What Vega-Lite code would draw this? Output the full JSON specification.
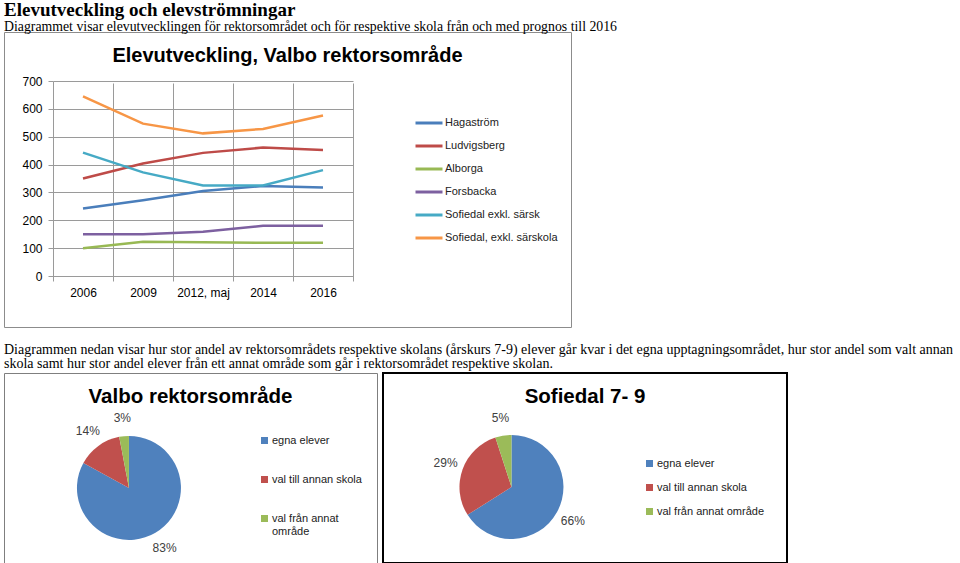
{
  "$schema": "https://vega.github.io/schema/vega-lite/v6.json",
  "padding": {"left": 3, "top": 0, "right": 0, "bottom": 0},
  "background": "white",
  "title": {
    "text": "Elevutveckling och elevströmningar",
    "subtitle": "Diagrammet visar elevutvecklingen för rektorsområdet och för respektive skola från och med prognos till 2016",
    "anchor": "start",
    "frame": "group",
    "offset": -2,
    "font": "Liberation Serif",
    "fontSize": 19,
    "fontWeight": "bold",
    "color": "#000000",
    "subtitleFont": "Liberation Serif",
    "subtitleFontSize": 13.8,
    "subtitleColor": "#000000",
    "subtitlePadding": 0
  },
  "datasets": {
    "elever": [
      {"school": "Hagaström", "year": "2006", "count": 242},
      {"school": "Hagaström", "year": "2009", "count": 272},
      {"school": "Hagaström", "year": "2012, maj", "count": 305},
      {"school": "Hagaström", "year": "2014", "count": 323},
      {"school": "Hagaström", "year": "2016", "count": 318},
      {"school": "Ludvigsberg", "year": "2006", "count": 350},
      {"school": "Ludvigsberg", "year": "2009", "count": 404},
      {"school": "Ludvigsberg", "year": "2012, maj", "count": 442},
      {"school": "Ludvigsberg", "year": "2014", "count": 461},
      {"school": "Ludvigsberg", "year": "2016", "count": 452},
      {"school": "Alborga", "year": "2006", "count": 100},
      {"school": "Alborga", "year": "2009", "count": 123},
      {"school": "Alborga", "year": "2012, maj", "count": 121},
      {"school": "Alborga", "year": "2014", "count": 119},
      {"school": "Alborga", "year": "2016", "count": 119},
      {"school": "Forsbacka", "year": "2006", "count": 150},
      {"school": "Forsbacka", "year": "2009", "count": 150},
      {"school": "Forsbacka", "year": "2012, maj", "count": 159},
      {"school": "Forsbacka", "year": "2014", "count": 180},
      {"school": "Forsbacka", "year": "2016", "count": 180},
      {"school": "Sofiedal  exkl. särsk", "year": "2006", "count": 443},
      {"school": "Sofiedal  exkl. särsk", "year": "2009", "count": 372},
      {"school": "Sofiedal  exkl. särsk", "year": "2012, maj", "count": 325},
      {"school": "Sofiedal  exkl. särsk", "year": "2014", "count": 325},
      {"school": "Sofiedal  exkl. särsk", "year": "2016", "count": 380},
      {"school": "Sofiedal, exkl. särskola", "year": "2006", "count": 645},
      {"school": "Sofiedal, exkl. särskola", "year": "2009", "count": 547},
      {"school": "Sofiedal, exkl. särskola", "year": "2012, maj", "count": 512},
      {"school": "Sofiedal, exkl. särskola", "year": "2014", "count": 528},
      {"school": "Sofiedal, exkl. särskola", "year": "2016", "count": 576}
    ],
    "valbo": [
      {"category": "egna elever", "share": 0.83},
      {"category": "val till annan skola", "share": 0.14},
      {"category": "val från annat område", "share": 0.03}
    ],
    "sofiedal": [
      {"category": "egna elever", "share": 0.66},
      {"category": "val till annan skola", "share": 0.29},
      {"category": "val från annat område", "share": 0.05}
    ]
  },
  "spacing": 15,
  "resolve": {
    "scale": {"color": "independent", "theta": "independent"},
    "legend": {"color": "independent"}
  },
  "vconcat": [
    {
      "width": 567,
      "height": 295,
      "view": {"stroke": "#8c8c8c", "strokeWidth": 1},
      "title": {
        "text": "Elevutveckling, Valbo rektorsområde",
        "font": "Liberation Sans",
        "fontSize": 20,
        "fontWeight": "bold",
        "anchor": "middle",
        "frame": "group",
        "baseline": "middle",
        "offset": -44,
        "color": "#000000"
      },
      "data": {"name": "elever"},
      "mark": {"type": "line", "strokeWidth": 2.5},
      "encoding": {
        "x": {
          "field": "year",
          "type": "nominal",
          "sort": null,
          "scale": {
            "type": "band",
            "domain": ["2006", "2009", "2012, maj", "2014", "2016"],
            "range": [49, 349],
            "paddingInner": 0,
            "paddingOuter": 0
          },
          "axis": {
            "title": null,
            "offset": -51,
            "tickBand": "extent",
            "grid": true,
            "gridColor": "#9a9a9a",
            "domainColor": "#9a9a9a",
            "tickColor": "#9a9a9a",
            "tickSize": 5,
            "labelAngle": 0,
            "labelPadding": 6,
            "labelFont": "Liberation Sans",
            "labelFontSize": 12,
            "labelColor": "#000000"
          }
        },
        "y": {
          "field": "count",
          "type": "quantitative",
          "scale": {"domain": [0, 700], "range": [244, 49], "nice": false},
          "axis": {
            "title": null,
            "offset": -49,
            "values": [0, 100, 200, 300, 400, 500, 600, 700],
            "grid": true,
            "gridColor": "#9a9a9a",
            "domainColor": "#9a9a9a",
            "tickColor": "#9a9a9a",
            "tickSize": 5,
            "labelPadding": 6,
            "labelFont": "Liberation Sans",
            "labelFontSize": 12,
            "labelColor": "#000000"
          }
        },
        "color": {
          "field": "school",
          "type": "nominal",
          "scale": {
            "domain": ["Hagaström", "Ludvigsberg", "Alborga", "Forsbacka", "Sofiedal  exkl. särsk", "Sofiedal, exkl. särskola"],
            "range": ["#4A7EBB", "#BE4B48", "#98B954", "#7D60A0", "#46AAC5", "#F79646"]
          },
          "legend": {
            "orient": "none",
            "legendX": 410,
            "legendY": 76,
            "title": null,
            "padding": 0,
            "symbolType": "stroke",
            "symbolSize": 729,
            "symbolStrokeWidth": 3,
            "labelOffset": 1,
            "labelFont": "Liberation Sans",
            "labelFontSize": 11,
            "labelColor": "#222222",
            "rowPadding": 2
          }
        }
      }
    },
    {
      "title": {
        "text": [
          "Diagrammen nedan visar hur stor andel av rektorsområdets respektive skolans (årskurs 7-9) elever går kvar i det egna upptagningsområdet, hur stor andel som valt annan",
          "skola samt hur stor andel elever från ett annat område som går i rektorsområdet respektive skolan."
        ],
        "anchor": "start",
        "frame": "group",
        "font": "Liberation Serif",
        "fontSize": 14,
        "fontWeight": "normal",
        "lineHeight": 14,
        "color": "#000000",
        "offset": 1
      },
      "spacing": 4,
      "resolve": {
        "scale": {"color": "independent", "theta": "independent"},
        "legend": {"color": "independent"}
      },
      "hconcat": [
        {
          "width": 373,
          "height": 190,
          "view": {"stroke": "#7f7f7f", "strokeWidth": 1},
          "title": {
            "text": "Valbo rektorsområde",
            "font": "Liberation Sans",
            "fontSize": 20.5,
            "fontWeight": "bold",
            "anchor": "middle",
            "frame": "group",
            "baseline": "middle",
            "offset": -44,
            "color": "#000000"
          },
          "data": {"name": "valbo"},
          "encoding": {
            "theta": {"field": "share", "type": "quantitative", "stack": true},
            "order": {"field": "share", "sort": "descending"},
            "x": {"datum": 0.335, "type": "quantitative", "scale": {"domain": [0, 1], "nice": false, "zero": false}, "axis": null},
            "y": {"datum": 0.395, "type": "quantitative", "scale": {"domain": [0, 1], "nice": false, "zero": false}, "axis": null},
            "color": {
              "field": "category",
              "type": "nominal",
              "scale": {
                "domain": ["egna elever", "val till annan skola", "val från annat område"],
                "range": ["#4F81BD", "#C0504D", "#9BBB59"]
              },
              "legend": {
                "orient": "none",
                "legendX": 255,
                "legendY": 62,
                "title": null,
                "padding": 0,
                "symbolType": "square",
                "symbolSize": 49,
                "symbolStrokeWidth": 0,
                "labelOffset": 2,
                "labelFont": "Liberation Sans",
                "labelFontSize": 11,
                "labelColor": "#222222",
                "rowPadding": 27,
                "labelExpr": "datum.label == 'val från annat område' ? ['val från annat', 'område'] : datum.label"
              }
            }
          },
          "layer": [
            {"mark": {"type": "arc", "outerRadius": 52}},
            {
              "mark": {"type": "text", "radius": 70, "font": "Liberation Sans", "fontSize": 12},
              "encoding": {
                "text": {"field": "share", "type": "quantitative", "format": ".0%"},
                "color": {"value": "#404040"}
              }
            }
          ]
        },
        {
          "width": 404,
          "height": 190,
          "view": {"stroke": "#000000", "strokeWidth": 2},
          "title": {
            "text": "Sofiedal 7- 9",
            "font": "Liberation Sans",
            "fontSize": 20.5,
            "fontWeight": "bold",
            "anchor": "middle",
            "frame": "group",
            "baseline": "middle",
            "offset": -44,
            "color": "#000000"
          },
          "data": {"name": "sofiedal"},
          "encoding": {
            "theta": {"field": "share", "type": "quantitative", "stack": true},
            "order": {"field": "share", "sort": "descending"},
            "x": {"datum": 0.318, "type": "quantitative", "scale": {"domain": [0, 1], "nice": false, "zero": false}, "axis": null},
            "y": {"datum": 0.4, "type": "quantitative", "scale": {"domain": [0, 1], "nice": false, "zero": false}, "axis": null},
            "color": {
              "field": "category",
              "type": "nominal",
              "scale": {
                "domain": ["egna elever", "val till annan skola", "val från annat område"],
                "range": ["#4F81BD", "#C0504D", "#9BBB59"]
              },
              "legend": {
                "orient": "none",
                "legendX": 261,
                "legendY": 85,
                "title": null,
                "padding": 0,
                "symbolType": "square",
                "symbolSize": 49,
                "symbolStrokeWidth": 0,
                "labelOffset": 2,
                "labelFont": "Liberation Sans",
                "labelFontSize": 11,
                "labelColor": "#222222",
                "rowPadding": 12
              }
            }
          },
          "layer": [
            {"mark": {"type": "arc", "outerRadius": 52}},
            {
              "mark": {"type": "text", "radius": 70, "font": "Liberation Sans", "fontSize": 12},
              "encoding": {
                "text": {"field": "share", "type": "quantitative", "format": ".0%"},
                "color": {"value": "#404040"}
              }
            }
          ]
        }
      ]
    }
  ],
  "config": {
    "font": "Liberation Sans",
    "view": {"stroke": null}
  }
}
